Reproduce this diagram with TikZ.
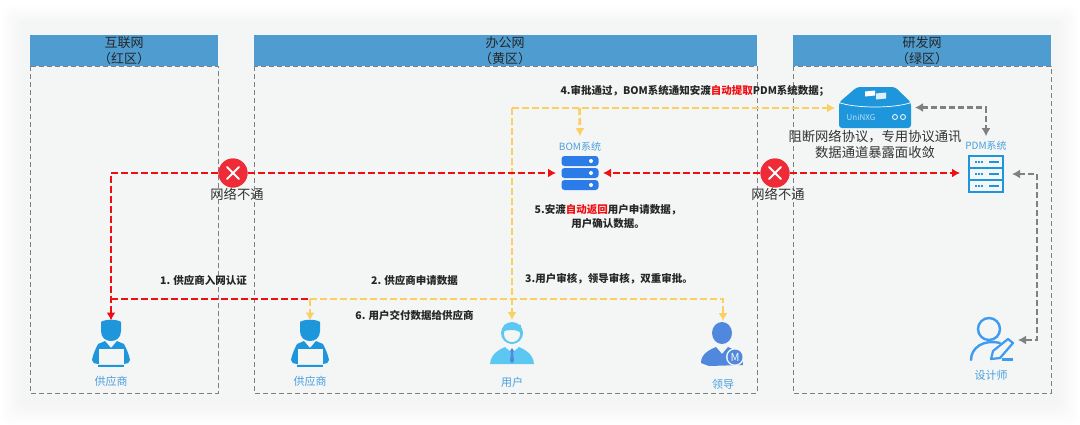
\documentclass[tikz,border=0pt]{standalone}
\usepackage{xcolor}
\usepackage{fontspec}
\setmainfont{Noto Sans CJK SC}
\usetikzlibrary{arrows.meta}

\definecolor{panelbg}{HTML}{F3F6F5}
\definecolor{headblue}{HTML}{4F9DD0}
\definecolor{zonegrey}{HTML}{808080}
\definecolor{iconblue}{HTML}{1E96DC}
\definecolor{labelblue}{HTML}{4A9FDF}
\definecolor{barblue}{HTML}{2B7CE9}
\definecolor{userblue}{HTML}{5CC8F2}
\definecolor{leadblue}{HTML}{4F88DD}
\definecolor{penblue}{HTML}{3E9BF0}
\definecolor{redline}{HTML}{F20D12}
\definecolor{yelline}{HTML}{FBCF62}
\definecolor{blockred}{HTML}{EE2B36}

\tikzset{
  zonehead/.style={fill=headblue,draw=none},
  zonebody/.style={draw=zonegrey,line width=0.9pt,dash pattern=on 5pt off 3pt},
  zonetext/.style={font=\fontsize{13}{16}\selectfont,align=center,text=black!85,inner sep=0pt},
  steptext/.style={font=\fontsize{10.5}{14}\selectfont\bfseries,align=center,text=black!85,inner sep=0pt},
  plaintext/.style={font=\fontsize{13.3}{16}\selectfont,align=center,text=black!80,inner sep=0pt},
  iconlabel/.style={font=\fontsize{11}{12}\selectfont,text=labelblue,inner sep=0pt},
  smalllabel/.style={font=\fontsize{10}{12}\selectfont,text=labelblue,inner sep=0pt},
  iconbox/.style={inner sep=0pt,outer sep=0pt},
  blockdot/.style={circle,fill=blockred,inner sep=0pt,minimum size=29pt},
  redflow/.style={draw=redline,line width=2.6pt,dash pattern=on 7pt off 3pt},
  yelflow/.style={draw=yelline,line width=2.6pt,dash pattern=on 7pt off 3pt},
  greyflow/.style={draw=zonegrey,line width=2.6pt,dash pattern=on 6pt off 3pt},
  tip/.style={-{Latex[length=8pt,width=9pt]}},
  tipboth/.style={{Latex[length=8pt,width=9pt]}-{Latex[length=8pt,width=9pt]}},
  supplierpic/.pic={
    \fill[iconblue] (-10,-22) .. controls (-6,-25) and (6,-25) .. (10,-22) -- (10,-13)
      .. controls (10,-6) and (5,-3) .. (0,-3) .. controls (-5,-3) and (-10,-6) .. (-10,-13) -- cycle;
    \fill[iconblue] (0,4) -- (-6,-3) -- (-13,0) .. controls (-15,4) and (-18,10) .. (-19,16)
      .. controls (-19,19) and (-16,20) .. (-13,20) -- (13,20) .. controls (16,20) and (19,19) .. (19,16)
      .. controls (18,10) and (15,4) .. (13,0) -- (6,-3) -- cycle;
    \fill[panelbg] (-12.5,5) rectangle (12.5,20);
    \fill[iconblue] (-13,21) rectangle (13,23);
  },
  userpic/.pic={
    \fill[userblue] (0,-10) circle (11);
    \fill[panelbg] (0,-9) circle (8);
    \fill[userblue] (-8,-12) .. controls (-4,-13) and (3,-14) .. (8,-11) -- (9,-18) -- (-7,-19) -- cycle;
    \fill[userblue] (-22,21) .. controls (-21,11) and (-14,7) .. (-7,4) -- (0,10) -- (7,4)
      .. controls (14,7) and (21,11) .. (22,21) -- cycle;
    \fill[leadblue] (0,5) -- (-2,8) -- (-1,10) -- (-2,18) -- (0,20) -- (2,18) -- (1,10) -- (2,8) -- cycle;
  },
  leaderpic/.pic={
    \fill[leadblue] (-1,-11) ellipse (10 and 11);
    \fill[leadblue] (-22,19) .. controls (-22,10) and (-14,6) .. (-7,3) -- (-1,10) -- (5,3)
      .. controls (12,6) and (20,10) .. (20,21) -- (-14,22) -- cycle;
    \fill[panelbg] (12,13) circle (9);
    \fill[leadblue] (12,13) circle (7.5);
    \node[iconbox,text=panelbg,font=\fontsize{11}{11}\selectfont] (leadm) at (12,13) {M};
  },
  serverbarpic/.pic={
    \fill[barblue,rounded corners=3pt] (-18.5,-5) rectangle (18.5,5);
    \fill[white] (11,0) circle (2);
  },
  pdmrowpic/.pic={
    \draw[iconblue,line width=2pt,fill=panelbg] (-17,-6) rectangle (17,6);
    \draw[iconblue,line width=1.2pt,dash pattern=on 1.5pt off 1.5pt] (-11,0) -- (-3,0);
    \draw[iconblue,line width=1.6pt] (3,0) -- (13,0);
  },
  gatewaypic/.pic={
    \fill[iconblue,rounded corners=3pt] (-36,-5) -- (-18,-20.5) -- (20,-20.5) -- (36,-5)
      -- (36,20.5) -- (-36,20.5) -- cycle;
    \draw[white,line width=0.7pt] (-36,-5) .. controls (-20,1) and (20,1) .. (36,-5);
    \fill[white] (-10,-16) -- (0,-17) -- (0,-12) -- (-10,-11) -- cycle;
    \fill[white!85!iconblue] (1,-14) -- (11,-15) -- (11,-9) -- (1,-8) -- cycle;
    \draw[white,line width=0.8pt] (20,9.5) circle (2.5) (28,9.5) circle (2.5);
    \node[iconbox,text=white!70!iconblue,font=\fontsize{8}{8}\selectfont] (uniname) at (-14,9.5) {UniNXG};
  },
  designerpic/.pic={
    \draw[penblue,line width=2.4pt] (-2,-11) circle (11);
    \draw[penblue,line width=2.4pt,line cap=round] (-20,20) .. controls (-20,8) and (-8,-1) .. (9,3);
    \draw[penblue,line width=2.2pt,fill=panelbg,line join=round] (0,19) -- (2,11) -- (17,-1) -- (22,3) -- (9,18) -- cycle;
    \draw[penblue,line width=2.2pt] (11,19.5) -- (22,19.5);
  }
}

\begin{document}
\begin{tikzpicture}[x=1pt,y=-1pt]
    \useasboundingbox (0,0) rectangle (1080,424);
    \fill[white] (0,0) rectangle (1080,424);

    % soft shadow and panel
    \foreach \s in {18,16,...,2}
        \fill[black,opacity=0.004,rounded corners=8pt] (20-\s,20-\s+3) rectangle (1060+\s,404+\s+3);
    \fill[panelbg] (20,20) rectangle (1060,404);

    % zones
    \draw[zonebody] (30,66) rectangle (218,393);
    \draw[zonebody] (254,66) rectangle (757,393);
    \draw[zonebody] (793,66) rectangle (1051,393);
    \fill[zonehead] (30,35) rectangle (218,66);
    \fill[zonehead] (254,35) rectangle (757,66);
    \fill[zonehead] (793,35) rectangle (1051,66);
    \node[zonetext] (redzone) at (124,51) {互联网\\（红区）};
    \node[zonetext] (yelzone) at (505,51) {办公网\\（黄区）};
    \node[zonetext] (grezone) at (922,51) {研发网\\（绿区）};

    % anchors of the icons
    \node[iconbox,minimum width=38pt,minimum height=47pt] (sup1) at (111,344) {};
    \node[iconbox,minimum width=38pt,minimum height=47pt] (sup2) at (310,344) {};
    \node[iconbox,minimum width=44pt,minimum height=46pt] (usr) at (512,343) {};
    \node[iconbox,minimum width=44pt,minimum height=46pt] (lead) at (723,344) {};
    \node[iconbox,minimum width=47pt,minimum height=36pt] (bom) at (579.5,173) {};
    \node[iconbox,minimum width=80pt,minimum height=41pt] (uni) at (875,107.5) {};
    \node[iconbox,minimum width=52pt,minimum height=38pt] (pdm) at (986,174) {};
    \node[iconbox,minimum width=54pt,minimum height=46pt] (des) at (991,340) {};
    \node[blockdot] (no1) at (233,173) {};
    \node[blockdot] (no2) at (775,173) {};
    \node[smalllabel,inner ysep=6pt] (bomtxt) at (580,147) {BOM系统};
    \node[smalllabel,inner ysep=5pt] (pdmtxt) at (986,146) {PDM系统};

    \coordinate (tee) at (111,299);
    \coordinate (split) at (310,299);
    \coordinate (up) at (512,108);
    \coordinate (bomtee) at (579.5,108);
    \coordinate (back) at (1037,260);

    % connectors
    \draw[yelflow,tip] (split) -- (sup2);
    \draw[yelflow,tip] (split) -| (lead);
    \draw[yelflow,tip] (up) -- (usr);
    \draw[yelflow,tip] (up) -- (uni.west |- up);
    \draw[yelflow,tip] (bomtee) -- (bomtxt.north);
    \draw[redflow,tip] (no1) -| (sup1);
    \draw[redflow] (tee) -- (split);
    \draw[redflow,tip] (no1) -- (bom);
    \draw[redflow,tip] (no2) -- (bom);
    \draw[redflow,tip] (no2) -- (pdm.west |- no2);
    \draw[greyflow,tipboth] (uni) -| (pdmtxt);
    \draw[greyflow,tipboth] (pdm) -| (back) |- (des);

    % blocked points
    \node[blockdot] (no1top) at (no1) {};
    \node[blockdot] (no2top) at (no2) {};
    \draw[white,line width=1.8pt,line cap=round] (227,167) -- (239,179) (239,167) -- (227,179);
    \draw[white,line width=1.8pt,line cap=round] (769,167) -- (781,179) (781,167) -- (769,179);
    \node[plaintext] (no1txt) at (237,194) {网络不通};
    \node[plaintext] (no2txt) at (778,194) {网络不通};

    % icons
    \pic at (sup1) {supplierpic};
    \pic at (sup2) {supplierpic};
    \pic at (usr) {userpic};
    \pic at (lead) {leaderpic};
    \pic at (580,161) {serverbarpic};
    \pic at (580,173) {serverbarpic};
    \pic at (580,185) {serverbarpic};
    \pic at (uni) {gatewaypic};
    \pic at (986,162) {pdmrowpic};
    \pic at (986,174) {pdmrowpic};
    \pic at (986,186) {pdmrowpic};
    \pic at (des) {designerpic};

    \node[iconlabel] (sup1txt) at (111,381) {供应商};
    \node[iconlabel] (sup2txt) at (310,381) {供应商};
    \node[iconlabel] (usrtxt) at (512,382) {用户};
    \node[iconlabel] (leadtxt) at (723,384) {领导};
    \node[iconlabel] (destxt) at (991,375) {设计师};

    % step texts
    \node[steptext] (step1) at (203.5,280) {1. 供应商入网认证};
    \node[steptext] (step2) at (414.5,280) {2. 供应商申请数据};
    \node[steptext] (step3) at (609,279) {3.用户审核，领导审核，双重审批。};
    \node[steptext] (step4) at (695,91) {4.审批通过，BOM系统通知安渡{\color{redline}自动提取}PDM系统数据；};
    \node[steptext] (step5) at (608,217) {5.安渡{\color{redline}自动返回}用户申请数据，\\用户确认数据。};
    \node[steptext] (step6) at (414.5,315) {6. 用户交付数据给供应商};
    \node[plaintext] (cut) at (875,144) {阻断网络协议，专用协议通讯\\数据通道暴露面收敛};
\end{tikzpicture}
\end{document}
